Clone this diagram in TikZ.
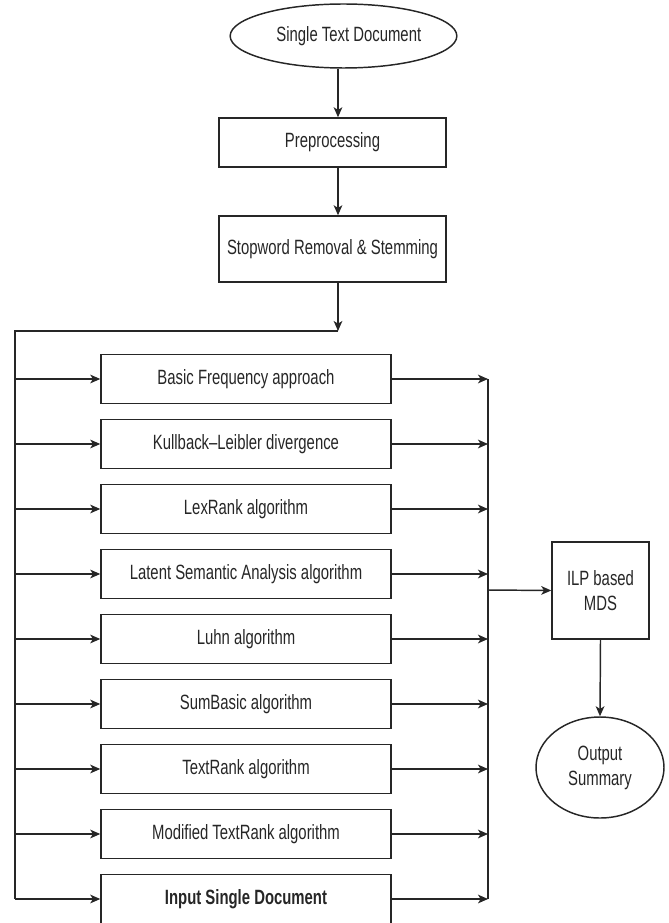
\documentclass[tikz,border=0pt]{standalone}
\usepackage{fontspec}
\setmainfont{Liberation Sans}[FakeStretch=0.72]
\usetikzlibrary{shapes.geometric,arrows.meta}
\begin{document}
\begin{tikzpicture}[x=0.75pt,y=-0.75pt,
  every node/.style={font=\fontsize{15.5}{18.75}\selectfont, text=black!85, inner sep=0pt, align=center},
  line/.style={draw=black!85, line width=1.1pt},
  arr/.style={line, -{Stealth[length=7.5pt,width=6.5pt,inset=2pt]}},
  topbox/.style={line, draw, rectangle, minimum width=170.25pt, minimum height=36.75pt},
  algbox/.style={line, draw, rectangle, minimum width=217.5pt, minimum height=36.75pt},
  oval/.style={line, draw, ellipse}
]
\useasboundingbox (0,0) rectangle (668,923);
\clip (0,0) rectangle (668,923);
\node[oval, minimum width=170pt, minimum height=48pt] (src) at (343.5,36) {\hspace*{8pt}Single Text Document};
\node[topbox] (pre) at (332.5,142.5) {Preprocessing};
\node[topbox, minimum height=49.5pt] (stop) at (332.5,249) {Stopword Removal \& Stemming};
\coordinate (split) at (338,331);
\coordinate (lefttop) at (15,331);
\coordinate (rv) at (488,590);

\foreach \n/\t [count=\i from 0] in {a1/Basic Frequency approach, a2/Kullback--Leibler divergence, a3/LexRank algorithm, a4/Latent Semantic Analysis algorithm, a5/Luhn algorithm, a6/SumBasic algorithm, a7/TextRank algorithm, a8/Modified TextRank algorithm}{
  \node[algbox] (\n) at (246,379+65*\i) {\t};
}
\node[algbox, font=\fontsize{15.5}{18.75}\selectfont\bfseries] (a9) at (246,899) {Input Single Document};

\node[line, draw, rectangle, minimum width=72.75pt, minimum height=72.75pt] (ilp) at (600.5,590.5) {ILP based\\MDS};
\node[oval, minimum width=96pt, minimum height=75.75pt] (out) at (600,767.5) {Output\\Summary};

\draw[arr] (src.south -| split) -- (split |- pre.north);
\draw[arr] (pre.south -| split) -- (split |- stop.north);
\draw[arr] (stop.south -| split) -- (split);
\draw[line] (split) -- (lefttop) -- (lefttop |- a9.west);
\foreach \n in {a1,a2,a3,a4,a5,a6,a7,a8,a9}{
  \draw[arr] (lefttop |- \n.west) -- (\n.west);
  \draw[arr] (\n.east) -- (\n.east -| rv);
}
\draw[line] (a1.east -| rv) -- (a9.east -| rv);
\draw[arr] (rv) -- (ilp.west);
\draw[arr] (ilp.south) -- (out.north);
\end{tikzpicture}
\end{document}
